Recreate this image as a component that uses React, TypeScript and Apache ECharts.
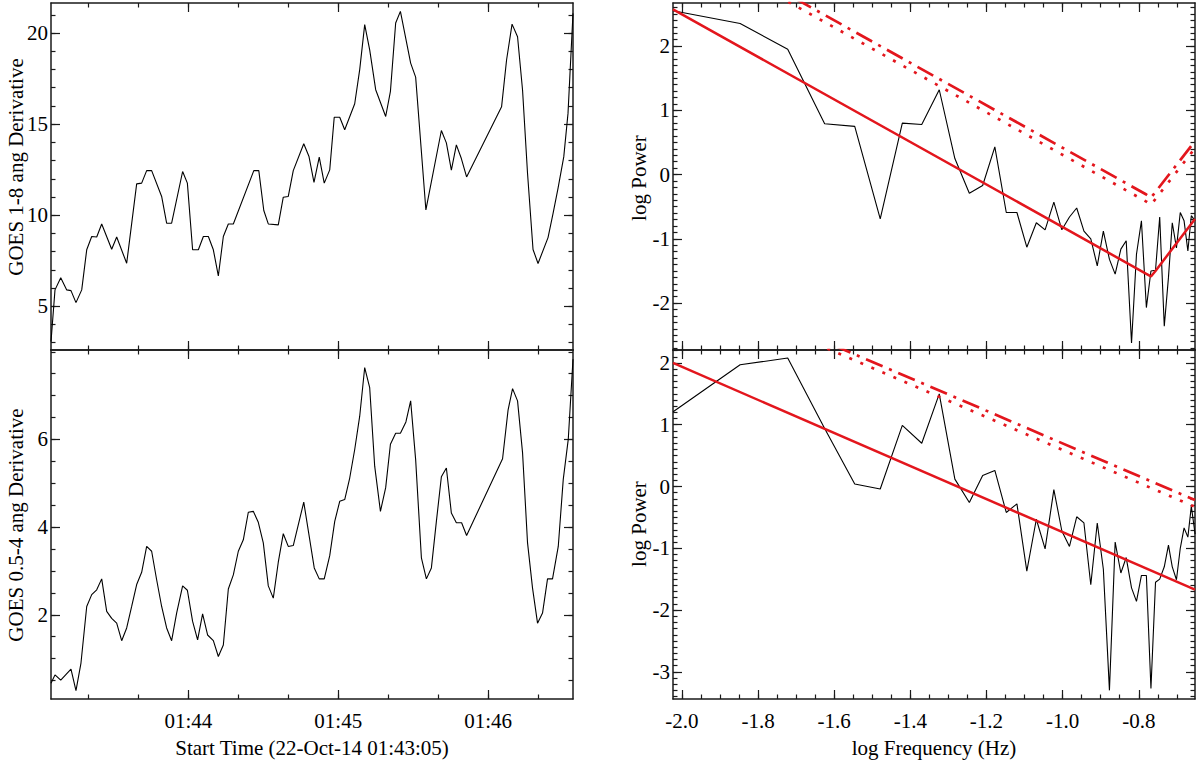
import React, { useEffect, useRef } from 'react'
import * as echarts from 'echarts'

// GOES time series, time in seconds after 01:43:00
const tlTime = [5.0, 6.6, 8.9, 11.3, 13.0, 15.0, 17.3, 19.3, 21.3, 23.3, 25.3, 29.3, 31.3, 35.3, 39.3, 41.3, 43.3, 45.3, 49.3, 51.3, 53.3, 57.7, 59.6, 61.7, 64.0, 66.0, 68.0, 70.0, 72.0, 74.0, 76.0, 78.0, 86.2, 88.2, 90.2, 92.0, 96.0, 98.0, 100.0, 102.0, 106.2, 108.3, 110.3, 112.4, 114.4, 116.6, 118.4, 120.6, 122.6, 126.6, 128.6, 130.6, 132.6, 135.0, 139.0, 140.9, 143.0, 144.9, 149.0, 151.0, 155.1, 161.3, 163.3, 165.3, 167.3, 169.3, 171.4, 185.4, 187.4, 189.6, 191.8, 193.8, 195.8, 198.0, 200.0, 204.0, 206.0, 208.0, 210.3, 212.0, 214.0]
const tlValue = [3.06, 5.9, 6.57, 5.9, 5.86, 5.2, 5.9, 8.1, 8.83, 8.8, 9.52, 8.13, 8.8, 7.36, 11.72, 11.76, 12.45, 12.45, 11.03, 9.56, 9.56, 12.4, 11.76, 8.1, 8.1, 8.83, 8.83, 8.1, 6.67, 8.83, 9.52, 9.52, 12.45, 12.45, 10.26, 9.52, 9.47, 10.99, 11.03, 12.45, 13.92, 13.22, 11.8, 13.19, 11.76, 12.49, 15.38, 15.38, 14.69, 16.12, 17.99, 20.46, 19.08, 16.89, 15.42, 16.8, 20.55, 21.19, 18.35, 17.58, 10.29, 14.65, 13.97, 12.47, 13.86, 13.11, 12.1, 15.95, 18.52, 20.49, 19.8, 16.87, 12.29, 8.12, 7.35, 8.77, 10.09, 11.47, 13.2, 15.59, 21.08]

const blTime = [5.0, 6.6, 8.9, 13.0, 15.0, 17.0, 19.3, 21.3, 23.3, 25.3, 27.3, 29.3, 31.3, 33.3, 35.3, 37.3, 39.3, 41.3, 43.3, 45.3, 47.3, 49.3, 51.3, 53.3, 55.3, 57.7, 59.6, 61.7, 63.7, 65.7, 67.7, 70.0, 72.0, 74.0, 76.0, 78.0, 80.0, 82.0, 84.0, 86.0, 88.0, 90.0, 92.0, 94.0, 96.0, 98.0, 100.0, 102.0, 106.2, 110.4, 112.4, 114.4, 116.6, 118.6, 120.6, 122.6, 124.6, 126.6, 128.6, 130.6, 132.6, 134.6, 136.9, 139.0, 140.9, 143.0, 144.9, 147.1, 149.0, 151.0, 153.3, 155.3, 157.3, 159.3, 161.3, 163.3, 165.3, 167.3, 169.4, 171.4, 185.8, 188.0, 189.8, 191.8, 193.8, 195.8, 197.8, 199.8, 201.8, 203.8, 205.8, 208.1, 210.1, 212.1, 214.0]
const blValue = [0.44, 0.63, 0.51, 0.76, 0.27, 0.9, 2.19, 2.46, 2.57, 2.82, 2.08, 1.92, 1.81, 1.41, 1.7, 2.19, 2.69, 2.97, 3.56, 3.45, 2.8, 2.19, 1.7, 1.41, 2.04, 2.66, 2.56, 1.85, 1.43, 2.02, 1.54, 1.41, 1.05, 1.31, 2.59, 2.91, 3.45, 3.71, 4.34, 4.36, 4.11, 3.64, 2.66, 2.38, 3.2, 3.85, 3.56, 3.58, 4.57, 3.07, 2.82, 2.82, 3.35, 4.13, 4.59, 4.63, 5.12, 5.77, 6.53, 7.64, 7.18, 5.39, 4.36, 4.9, 5.89, 6.14, 6.14, 6.4, 6.88, 5.54, 3.3, 2.82, 3.07, 4.13, 5.15, 5.35, 4.32, 4.1, 4.1, 3.81, 5.56, 6.67, 7.16, 6.88, 5.7, 3.64, 2.61, 1.81, 2.04, 2.82, 2.82, 3.56, 5.09, 6.0, 7.83]

// power spectra (log10 frequency in Hz, log10 power)
const logFreq = [-2.023, -1.847, -1.722, -1.625, -1.546, -1.479, -1.421, -1.37, -1.324, -1.283, -1.245, -1.21, -1.178, -1.148, -1.12, -1.094, -1.069, -1.046, -1.023, -1.002, -0.982, -0.963, -0.944, -0.926, -0.909, -0.893, -0.877, -0.862, -0.847, -0.833, -0.819, -0.806, -0.793, -0.78, -0.768, -0.756, -0.745, -0.733, -0.722, -0.712, -0.701, -0.691, -0.681, -0.671, -0.662, -0.652]
const powerTop = [2.55, 2.35, 1.95, 0.79, 0.75, -0.69, 0.8, 0.78, 1.32, 0.25, -0.29, -0.17, 0.43, -0.59, -0.59, -1.13, -0.75, -0.86, -0.43, -0.86, -0.66, -0.52, -0.88, -1.0, -1.42, -0.88, -1.32, -1.55, -1.16, -1.03, -2.62, -1.24, -0.72, -2.07, -1.5, -1.49, -0.66, -2.36, -1.6, -0.75, -1.14, -0.59, -0.72, -1.19, -0.64, -0.72]
const powerBottom = [1.21, 1.97, 2.08, 0.94, 0.04, -0.04, 0.99, 0.7, 1.5, 0.12, -0.26, 0.18, 0.26, -0.42, -0.28, -1.37, -0.53, -1.01, -0.05, -0.72, -0.97, -0.49, -0.59, -1.59, -0.59, -1.34, -3.3, -0.9, -1.4, -1.15, -1.64, -1.86, -1.44, -1.44, -3.27, -1.55, -1.5, -1.3, -0.95, -1.3, -1.51, -1.0, -0.67, -0.82, -0.32, -0.77]

// fitted model (solid) and confidence levels (dash-dot / dotted)
const fitTopX = [-2.0233, -0.7802, -0.768, -0.7561, -0.6523]
const fitTopY = [2.57, -1.545, -1.585, -1.5, -0.69]
const conf99TopY = [3.8, -0.31, -0.36, -0.27, 0.52]
const conf95TopY = [3.69, -0.42, -0.47, -0.38, 0.41]
const fitBottomX = [-2.0233, -0.6523]
const fitBottomY = [2.0, -1.67]
const conf99BottomY = [3.4, -0.22]
const conf95BottomY = [3.31, -0.33]

// ticks
const timeTicks = [60, 120, 180]
const timeTickLabels = ['01:44', '01:45', '01:46']
const freqTicks = [-2.0, -1.8, -1.6, -1.4, -1.2, -1.0, -0.8]
const tlTicks = [5, 10, 15, 20]
const blTicks = [2, 4, 6]
const trTicks = [-2, -1, 0, 1, 2]
const brTicks = [-3, -2, -1, 0, 1, 2]

const FONT = 'Liberation Serif'
const INK = '#1a1a1a'
const RED = '#e3161d'

function steps(from: number, to: number, step: number) {
  const out: number[] = []
  const a = Math.ceil(from / step - 1e-6)
  const b = Math.floor(to / step + 1e-6)
  for (let i = a; i <= b; i++) out.push(+(i * step).toFixed(4))
  return out
}

// one labelled axis + minor ticks, mirrored on the opposite side
function makeAxes(gridIndex: number, min: number, max: number, major: number[], minor: number[], sides: string[], fmt: ((v: number) => string) | null, margin: number) {
  const out: any[] = []
  sides.forEach((position, s) => {
    [major, minor].forEach((vals, m) => {
      out.push({
        type: 'value',
        gridIndex,
        position,
        min,
        max,
        splitLine: { show: false },
        axisLine: { show: m === 0, onZero: false, lineStyle: { color: INK, width: 1.5 } },
        axisTick: { show: true, inside: true, length: m === 0 ? 9 : 4.5, customValues: vals, lineStyle: { color: INK, width: 1.2 } },
        axisLabel: s === 0 && m === 0 && fmt
          ? { show: true, customValues: vals, formatter: fmt, margin, fontFamily: FONT, fontSize: 21, color: '#000' }
          : { show: false }
      })
    })
  })
  return out
}

const line = (data: number[][], color: string, width: number, type: any = 'solid') => ({
  type: 'line',
  data,
  symbol: 'none',
  showSymbol: false,
  silent: true,
  lineStyle: { color, width, type, cap: 'butt' }
})

const zip = (xs: number[], ys: number[]) => xs.map((x, i) => [x, ys[i]])

const App: React.FC = () => {
  const chartRef = useRef<HTMLDivElement>(null)

  useEffect(() => {
    if (!chartRef.current) return
    const chart = echarts.init(chartRef.current, null, { renderer: 'svg' })

    const xAxis: any[] = []
    const yAxis: any[] = []
    const series: any[] = []

    const timeFmt = (v: number) => timeTickLabels[timeTicks.indexOf(v)] ?? ''
    const intFmt = (v: number) => String(Math.round(v))
    const freqFmt = (v: number) => v.toFixed(1)

    const panel = (gi: number, xr: number[], xMajor: number[], xMinorStep: number, xFmt: any, yr: number[], yMajor: number[], yMinorStep: number, yFmt: any) => {
      const xi = xAxis.length
      xAxis.push(...makeAxes(gi, xr[0], xr[1], xMajor, steps(xr[0], xr[1], xMinorStep), ['bottom', 'top'], xFmt, 11))
      const yi = yAxis.length
      yAxis.push(...makeAxes(gi, yr[0], yr[1], yMajor, steps(yr[0], yr[1], yMinorStep), ['left', 'right'], yFmt, 3))
      return { xAxisIndex: xi, yAxisIndex: yi }
    }

    const tl = panel(0, [5, 214], timeTicks, 20, null, [2.6, 21.65], tlTicks, 1, intFmt)
    const bl = panel(1, [5, 214], timeTicks, 20, timeFmt, [0.08, 8.04], blTicks, 0.5, intFmt)
    const tr = panel(2, [-2.0233, -0.6523], freqTicks, 0.05, null, [-2.73, 2.67], trTicks, 0.1, intFmt)
    const br = panel(3, [-2.0233, -0.6523], freqTicks, 0.05, freqFmt, [-3.44, 2.21], brTicks, 0.1, intFmt)

    const dashDot = [18, 7, 3, 7]
    const dotted = [3, 9]

    series.push({ ...line(zip(tlTime, tlValue), '#000', 1.1), ...tl })
    series.push({ ...line(zip(blTime, blValue), '#000', 1.1), ...bl })

    series.push({ ...line(zip(logFreq, powerTop), '#000', 1.1), ...tr })
    series.push({ ...line(zip(fitTopX, fitTopY), RED, 2.5), ...tr })
    series.push({ ...line(zip(fitTopX, conf99TopY), RED, 2.7, dashDot), ...tr })
    series.push({ ...line(zip(fitTopX, conf95TopY), RED, 2.7, dotted), ...tr })

    series.push({ ...line(zip(logFreq, powerBottom), '#000', 1.1), ...br })
    series.push({ ...line(zip(fitBottomX, fitBottomY), RED, 2.5), ...br })
    series.push({ ...line(zip(fitBottomX, conf99BottomY), RED, 2.7, dashDot), ...br })
    series.push({ ...line(zip(fitBottomX, conf95BottomY), RED, 2.7, dotted), ...br })

    const title = (text: string, x: number, y: number, vertical: boolean) => ({
      type: 'text',
      x,
      y,
      rotation: vertical ? Math.PI / 2 : 0,
      style: { text, fontFamily: FONT, fontSize: 21, fill: '#000', align: 'center', verticalAlign: 'middle' }
    })

    chart.setOption({
      animation: false,
      backgroundColor: '#fff',
      grid: [
        { left: 51, top: 3, width: 522, height: 347 },
        { left: 51, top: 350, width: 522, height: 349 },
        { left: 673, top: 3, width: 522, height: 347 },
        { left: 673, top: 350, width: 522, height: 349 }
      ],
      xAxis,
      yAxis,
      series,
      graphic: [
        title('GOES 1-8 ang Derivative', 16, 167, true),
        title('GOES 0.5-4 ang Derivative', 16, 525, true),
        title('log Power', 639, 178, true),
        title('log Power', 639, 524, true),
        title('Start Time (22-Oct-14 01:43:05)', 312, 748, false),
        title('log Frequency (Hz)', 934, 748, false)
      ]
    })

    return () => chart.dispose()
  }, [])

  return <div ref={chartRef} style={{ position: 'fixed', left: 0, top: 0, width: 1200, height: 761, background: '#fff' }} />
}

export default App
